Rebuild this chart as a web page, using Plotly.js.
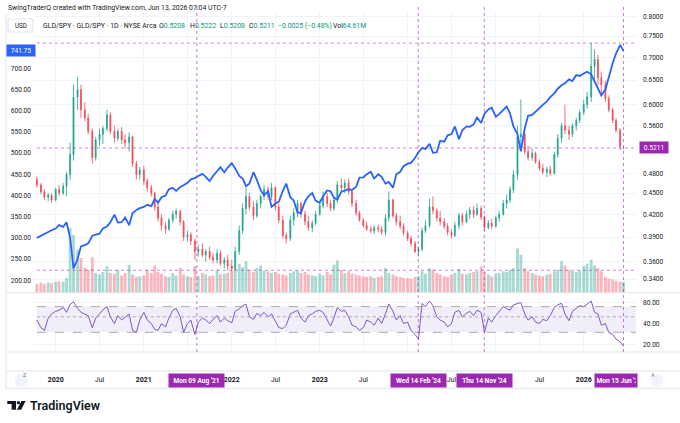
<!DOCTYPE html>
<html><head><meta charset="utf-8">
<script src="https://cdn.plot.ly/plotly-3.0.1.min.js"></script>
<style>html,body{margin:0;padding:0;background:#fff}#chart{width:680px;height:423px}</style>
</head><body><div id="chart"></div>
<script>
const dates = [
'2019-10-15','2019-11-01','2019-11-15','2019-12-01','2019-12-15',
'2020-01-01','2020-01-15','2020-02-01','2020-02-15','2020-03-01','2020-03-15','2020-04-01','2020-04-15','2020-05-01','2020-05-15','2020-06-01','2020-06-15','2020-07-01','2020-07-15','2020-08-01','2020-08-15','2020-09-01','2020-09-15','2020-10-01','2020-10-15','2020-11-01','2020-11-15','2020-12-01','2020-12-15',
'2021-01-01','2021-01-15','2021-02-01','2021-02-15','2021-03-01','2021-03-15','2021-04-01','2021-04-15','2021-05-01','2021-05-15','2021-06-01','2021-06-15','2021-07-01','2021-07-15','2021-08-01','2021-08-15','2021-09-01','2021-09-15','2021-10-01','2021-10-15','2021-11-01','2021-11-15','2021-12-01','2021-12-15',
'2022-01-01','2022-01-15','2022-02-01','2022-02-15','2022-03-01','2022-03-15','2022-04-01','2022-04-15','2022-05-01','2022-05-15','2022-06-01','2022-06-15','2022-07-01','2022-07-15','2022-08-01','2022-08-15','2022-09-01','2022-09-15','2022-10-01','2022-10-15','2022-11-01','2022-11-15','2022-12-01','2022-12-15',
'2023-01-01','2023-01-15','2023-02-01','2023-02-15','2023-03-01','2023-03-15','2023-04-01','2023-04-15','2023-05-01','2023-05-15','2023-06-01','2023-06-15','2023-07-01','2023-07-15','2023-08-01','2023-08-15','2023-09-01','2023-09-15','2023-10-01','2023-10-15','2023-11-01','2023-11-15','2023-12-01','2023-12-15',
'2024-01-01','2024-01-15','2024-02-01','2024-02-15','2024-03-01','2024-03-15','2024-04-01','2024-04-15','2024-05-01','2024-05-15','2024-06-01','2024-06-15','2024-07-01','2024-07-15','2024-08-01','2024-08-15','2024-09-01','2024-09-15','2024-10-01','2024-10-15','2024-11-01','2024-11-15','2024-12-01','2024-12-15',
'2025-01-01','2025-01-15','2025-02-01','2025-02-15','2025-03-01','2025-03-15','2025-04-01','2025-04-15','2025-05-01','2025-05-15','2025-06-01','2025-06-15','2025-07-01','2025-07-15','2025-08-01','2025-08-15','2025-09-01','2025-09-15','2025-10-01','2025-10-15','2025-11-01','2025-11-15','2025-12-01','2025-12-15',
'2026-01-01','2026-01-15','2026-02-01','2026-02-15','2026-03-01','2026-03-15','2026-04-01','2026-04-15','2026-05-01','2026-05-15','2026-06-01','2026-06-15'];

// SPY (left axis, blue line)
const spy = [
300,305,311,314,318,
322,330,326,337,300,228,250,280,283,287,305,308,310,322,327,337,355,336,337,348,330,358,366,370,
373,378,375,392,383,396,400,415,418,411,420,424,430,438,441,446,451,444,434,446,459,467,455,466,
476,464,446,440,422,428,455,437,412,401,410,373,381,385,411,428,396,388,360,358,386,398,406,388,
383,398,412,410,395,390,409,412,415,413,420,442,443,450,456,440,450,444,428,432,418,450,456,469,
475,477,489,502,512,510,522,501,502,529,527,542,545,563,533,554,563,562,568,584,571,593,603,607,
586,592,601,610,594,563,545,505,558,588,590,598,606,614,622,632,641,652,660,665,674,670,684,682,
688,692,686,670,655,636,650,682,712,735,755,741.75];

// GLD/SPY candles (right axis, log)
const gsOpen = [
.470,.462,.452,.444,.447,
.440,.455,.450,.460,.478,.510,.615,.630,.590,.575,.550,.505,.535,.545,.555,.580,.550,.538,.550,.535,.530,.540,.495,.478,
.485,.468,.458,.450,.430,.415,.405,.400,.412,.420,.424,.410,.390,.393,.385,.372,.375,.368,.372,.365,.362,.370,.358,.362,
.355,.352,.372,.398,.428,.445,.430,.418,.435,.445,.455,.445,.458,.430,.412,.392,.388,.412,.422,.435,.420,.410,.402,.408,
.420,.432,.445,.435,.428,.440,.462,.458,.465,.452,.435,.422,.412,.405,.400,.398,.402,.400,.396,.415,.440,.418,.410,.404,
.395,.388,.382,.372,.375,.398,.405,.430,.425,.415,.410,.404,.396,.392,.405,.418,.410,.420,.426,.420,.428,.416,.402,.408,
.404,.415,.420,.435,.440,.455,.478,.540,.545,.515,.505,.512,.498,.488,.482,.486,.480,.510,.538,.560,.552,.545,.560,.570,
.585,.600,.615,.680,.695,.655,.640,.612,.590,.570,.552,.5208];
const gsHigh = [
.475,.465,.455,.450,.449,
.458,.462,.465,.482,.530,.640,.657,.640,.605,.582,.555,.540,.555,.560,.590,.585,.560,.555,.558,.545,.548,.542,.500,.490,
.492,.472,.462,.452,.436,.420,.410,.415,.425,.428,.426,.412,.398,.396,.388,.380,.382,.375,.378,.370,.375,.374,.365,.368,
.362,.378,.405,.435,.458,.450,.438,.440,.448,.462,.460,.465,.460,.435,.418,.396,.418,.428,.440,.438,.425,.418,.412,.425,
.438,.452,.450,.440,.445,.468,.472,.470,.472,.455,.440,.425,.415,.410,.404,.405,.406,.404,.420,.452,.442,.422,.418,.408,
.398,.392,.385,.378,.402,.412,.442,.445,.428,.425,.415,.408,.400,.410,.422,.422,.425,.430,.432,.435,.432,.418,.412,.414,
.418,.425,.440,.448,.460,.485,.560,.610,.548,.525,.520,.515,.502,.495,.490,.492,.515,.545,.565,.600,.560,.565,.575,.590,
.610,.625,.733,.718,.705,.668,.648,.618,.594,.575,.556,.5222];
const gsLow = [
.458,.448,.440,.438,.436,
.438,.446,.447,.445,.470,.500,.590,.575,.568,.545,.495,.500,.525,.528,.550,.545,.530,.532,.528,.520,.515,.490,.470,.470,
.462,.452,.445,.425,.410,.398,.394,.398,.408,.414,.405,.385,.384,.380,.362,.366,.365,.360,.362,.358,.358,.355,.352,.350,
.348,.350,.368,.394,.420,.425,.412,.415,.428,.440,.440,.440,.425,.408,.388,.382,.385,.405,.416,.415,.405,.398,.396,.405,
.418,.428,.430,.424,.425,.436,.452,.450,.448,.430,.418,.410,.402,.398,.395,.394,.396,.393,.392,.410,.415,.405,.400,.392,
.385,.378,.370,.366,.372,.395,.402,.420,.410,.405,.400,.392,.388,.390,.400,.405,.408,.414,.415,.418,.412,.398,.400,.400,
.402,.410,.418,.428,.436,.450,.470,.515,.510,.500,.500,.495,.484,.478,.474,.476,.478,.505,.530,.545,.535,.540,.552,.565,
.580,.592,.605,.650,.640,.620,.605,.585,.565,.548,.518,.5208];
const gsClose = [
.462,.452,.444,.447,.440,
.455,.450,.460,.478,.510,.615,.630,.590,.575,.550,.505,.535,.545,.555,.580,.550,.538,.550,.535,.530,.540,.495,.478,.485,
.468,.458,.450,.430,.415,.405,.400,.412,.420,.424,.410,.390,.393,.385,.372,.375,.368,.372,.365,.362,.370,.358,.362,.355,
.352,.372,.398,.428,.445,.430,.418,.435,.445,.455,.445,.458,.430,.412,.392,.388,.412,.422,.435,.420,.410,.402,.408,.420,
.432,.445,.435,.428,.440,.462,.458,.465,.452,.435,.422,.412,.405,.400,.398,.402,.400,.396,.415,.440,.418,.410,.404,.395,
.388,.382,.372,.375,.398,.405,.430,.425,.415,.410,.404,.396,.392,.405,.418,.410,.420,.426,.420,.428,.416,.402,.408,.404,
.415,.420,.435,.440,.455,.478,.540,.545,.515,.505,.512,.498,.488,.482,.486,.480,.510,.538,.560,.552,.545,.560,.570,.585,
.600,.615,.680,.695,.655,.640,.612,.590,.570,.552,.524,.5211];

// Volume (millions)
const volume = [
55,60,52,62,58,
65,70,68,90,390,350,260,210,150,140,215,120,110,125,160,120,115,140,105,120,170,110,95,100,
105,140,120,165,125,115,100,95,120,105,150,110,100,95,160,105,120,110,100,105,140,110,115,120,
130,145,175,155,190,140,125,150,165,135,130,120,125,115,110,105,120,130,135,120,125,110,105,100,
115,105,125,110,170,195,140,120,130,115,110,105,100,95,100,90,95,100,150,120,110,100,95,90,
90,85,95,100,130,115,150,140,120,110,100,95,110,120,145,115,110,120,125,130,160,125,110,100,
115,120,130,125,140,150,270,230,150,130,120,110,105,100,110,115,130,140,190,165,140,130,125,135,
160,175,200,165,150,130,95,85,80,72,68,64.61];

// RSI
const rsi = [
45,35,32,48,55,
60,62,68,58,75,82,66,58,55,52,35,48,55,63,70,50,40,52,45,50,55,32,30,45,
58,45,40,33,32,40,36,48,62,66,50,30,40,45,28,42,48,45,40,46,52,42,48,44,
41,60,65,72,76,50,46,56,52,58,50,55,42,35,34,38,55,58,62,48,42,52,55,60,
62,58,45,37,48,68,60,62,50,38,36,32,35,45,42,38,48,40,55,76,60,45,52,40,
42,32,28,24,78,70,84,72,50,45,42,36,40,58,62,50,56,60,52,62,58,30,48,42,
52,60,70,66,62,74,78,80,55,45,50,42,40,46,44,52,68,74,78,55,44,60,66,72,
70,76,84,58,55,38,40,30,28,24,22,19];

// 750.00 is hidden under the last-price box in the reference
const spyTicks = [200,250,300,350,400,450,500,550,600,650,700];
const ratioTicks = [0.34,0.36,0.39,0.42,0.45,0.48,0.56,0.60,0.65,0.70,0.75,0.80];
const rsiTicks = [20,40,80];
const timeTicks = ['2020-01-01','2020-07-01','2021-01-01','2021-07-01','2022-01-01','2022-07-01','2023-01-01','2023-07-01','2024-01-01','2024-07-01','2025-01-01','2025-07-01','2026-01-01'];
// labels under the date boxes (Jul 2021, 2024, 2025) are hidden in the reference
const timeTickText = ['<b>2020</b>','Jul','<b>2021</b>','','<b>2022</b>','Jul','<b>2023</b>','Jul','','Jul','','Jul','<b>2026</b>'];
const markerDates = ['2021-08-09','2024-02-14','2024-11-14','2026-06-15'];
const markerLabels = ["Mon 09 Aug '21","Wed 14 Feb '24","Thu 14 Nov '24","Mon 15 Jun '26"];
const levelLines = [0.733, 0.5211, 0.350];
const lastSpy = 741.75, lastRatio = 0.5211;
const titleText = 'SwingTraderQ created with TradingView.com, Jun 13, 2026 07:04 UTC-7';
const legendName = 'GLD/SPY · GLD/SPY · 1D · NYSE Arca';
const legendItems = [['O','0.5208'],['H','0.5222'],['L','0.5208'],['C','0.5211'],['','−0.0025 (−0.48%)'],['Vol','64.61M']];

// ---- layout helpers (pixel -> paper) ----
const L = 34, R = 636, T = 12, B = 351.7;
const W = R - L, H = B - T;
const px = x => (x - L) / W;
const py = y => (B - y) / H;
const mainBottom = py(292.5);
const xEnd = '2026-08-06';
const G = '#089981', RD = '#f23645', PURPLE = '#9c27b0', TXT = '#131722', FR = '#e0e3eb';

const volColors = gsClose.map((c, i) => c >= gsOpen[i] ? 'rgba(8,153,129,0.36)' : 'rgba(242,54,69,0.36)');

const traces = [
  {type:'bar', x:dates, y:volume, xaxis:'x2', yaxis:'y', marker:{color:volColors, line:{width:0}}, hoverinfo:'skip'},
  {type:'candlestick', x:dates, open:gsOpen, high:gsHigh, low:gsLow, close:gsClose, xaxis:'x2', yaxis:'y2',
   increasing:{line:{color:G, width:0.8}, fillcolor:G}, decreasing:{line:{color:RD, width:0.8}, fillcolor:RD},
   whiskerwidth:0, hoverinfo:'skip', opacity:0.9},
  {type:'scatter', mode:'lines', x:dates, y:spy, xaxis:'x2', yaxis:'y4', line:{color:'#2962ff', width:1.8}, hoverinfo:'skip'},
  {type:'scatter', mode:'lines', x:dates, y:rsi, xaxis:'x', yaxis:'y3', line:{color:'#7e57c2', width:1}, hoverinfo:'skip'}
];

const shapes = [];
// frame lines
[292.5, 351.7, 370.7, 388].forEach(y => shapes.push({type:'line', xref:'paper', yref:'paper', x0:px(6), x1:px(680), y0:py(y), y1:py(y), line:{color:FR, width:1}}));
shapes.push({type:'line', xref:'paper', yref:'paper', x0:px(6), x1:px(6), y0:py(14), y1:py(388), line:{color:FR, width:1}});
// RSI band
shapes.push({type:'rect', xref:'x', yref:'y3', x0:dates[0], x1:xEnd, y0:30, y1:70, fillcolor:'rgba(126,87,194,0.1)', line:{width:0}, layer:'below'});
[[70,'dash'],[50,'dot'],[30,'dash']].forEach(([v,d]) => shapes.push({type:'line', xref:'x', yref:'y3', x0:dates[0], x1:xEnd, y0:v, y1:v, line:{color:'#9598a1', width:0.8, dash:d}}));
// horizontal level lines
levelLines.forEach(v => shapes.push({type:'line', xref:'x2', yref:'y2', x0:dates[0], x1:xEnd, y0:v, y1:v, line:{color:'rgba(156,39,176,0.55)', width:1, dash:'dot'}}));
// vertical marker lines
markerDates.forEach(d => shapes.push({type:'line', xref:'x', yref:'paper', x0:d, x1:d, y0:py(351.7), y1:py(4), line:{color:'rgba(156,39,176,0.6)', width:1, dash:'dot'}}));
// USD box
shapes.push({type:'rect', xref:'paper', yref:'paper', x0:px(8), x1:px(33), y0:py(32), y1:py(19), line:{color:FR, width:1}, fillcolor:'#ffffff'});
// Z / A buttons
[21, 657].forEach(cx => shapes.push({type:'circle', xref:'paper', yref:'paper', x0:px(cx-6.5), x1:px(cx+6.5), y0:py(386.5), y1:py(373.5), line:{width:0}, fillcolor:'#f0f3fa'}));
// TradingView logo glyph
const P = pts => 'M ' + pts.map(([x,y]) => px(x) + ',' + py(y)).join(' L ') + ' Z';
shapes.push({type:'path', xref:'paper', yref:'paper', path:P([[7.3,400.7],[16,400.7],[16,409.3],[11.6,409.3],[11.6,403.6],[7.3,403.6]]), fillcolor:TXT, line:{width:0}});
shapes.push({type:'circle', xref:'paper', yref:'paper', x0:px(16.8), x1:px(20), y0:py(403.9), y1:py(400.7), fillcolor:TXT, line:{width:0}});
shapes.push({type:'path', xref:'paper', yref:'paper', path:P([[21.4,400.7],[25.6,400.7],[21.2,409.3],[16.9,409.3]]), fillcolor:TXT, line:{width:0}});

const g = s => `<span style="color:${G}">${s}</span>`;
const legendX = [157, 188, 218, 247, 276, 331];

const annotations = [
  {xref:'paper', yref:'paper', x:px(6), y:py(8.3), xanchor:'left', yanchor:'middle', text:titleText, showarrow:false, font:{size:6.9, color:TXT}},
  {xref:'paper', yref:'paper', x:px(20.5), y:py(25.5), xanchor:'center', yanchor:'middle', text:'USD', showarrow:false, font:{size:6.3, color:TXT}},
  {xref:'paper', yref:'paper', x:px(40.5), y:py(25.5), xanchor:'left', yanchor:'middle', text:legendName, showarrow:false, font:{size:6.9, color:TXT}},
  {xref:'paper', yref:'y4', x:px(36), y:lastSpy, xanchor:'right', yanchor:'middle', text:lastSpy.toFixed(2), showarrow:false, bgcolor:'#2962ff', font:{size:6.6, color:'#ffffff'}, width:26, height:9, borderpad:1},
  {xref:'paper', yref:'y2', x:px(639), y:Math.log10(lastRatio), xanchor:'left', yanchor:'middle', text:lastRatio.toFixed(4), showarrow:false, bgcolor:PURPLE, font:{size:6.6, color:'#ffffff'}, width:26, height:9, borderpad:1},
  {xref:'paper', yref:'paper', x:px(21), y:py(380), text:'Z', showarrow:false, font:{size:5.5, color:'#787b86'}},
  {xref:'paper', yref:'paper', x:px(657), y:py(380), text:'A', showarrow:false, font:{size:5.5, color:'#787b86'}},
  {xref:'paper', yref:'paper', x:px(27.5), y:py(405.2), xanchor:'left', yanchor:'middle', text:'TradingView', showarrow:false, font:{size:12.5, color:TXT, weight:600}}
];
legendItems.forEach(([k, v], i) => annotations.push({xref:'paper', yref:'paper', x:px(legendX[i]), y:py(25.5), xanchor:'left', yanchor:'middle', text:k + g(v), showarrow:false, font:{size:6.9, color:TXT}}));
markerDates.forEach((d, i) => {
  if (i < 3) {
    annotations.push({xref:'x', yref:'paper', x:d, y:py(380), xanchor:'center', yanchor:'middle', text:'<b>' + markerLabels[i] + '</b>', showarrow:false, bgcolor:PURPLE, font:{size:6.6, color:'#ffffff'}, width:52, height:10, borderpad:1.5});
  } else {
    annotations.push({xref:'paper', yref:'paper', x:px(638), y:py(380), xanchor:'right', yanchor:'middle', align:'left', text:'<b>' + markerLabels[i] + '</b>', showarrow:false, bgcolor:PURPLE, font:{size:6.6, color:'#ffffff'}, width:39, height:10, borderpad:1.5});
  }
});

const layout = {
  width:680, height:423,
  margin:{l:L, r:680 - R, t:T, b:423 - B},
  paper_bgcolor:'#ffffff', plot_bgcolor:'#ffffff',
  showlegend:false, hovermode:false, dragmode:false, bargap:0.15, boxgap:0.6,
  font:{family:'Roboto, "Open Sans", sans-serif', size:6.6, color:TXT},
  xaxis:{type:'date', range:['2019-10-03', xEnd], anchor:'y3', tickmode:'array', tickvals:timeTicks, ticktext:timeTickText,
         showgrid:true, gridcolor:'#f0f3fa', gridwidth:1, ticks:'', ticklabelstandoff:22, showline:false, zeroline:false,
         tickfont:{size:7, color:TXT}, rangeslider:{visible:false}},
  xaxis2:{type:'date', matches:'x', anchor:'y', tickmode:'array', tickvals:timeTicks, showticklabels:false, ticks:'',
          showgrid:true, gridcolor:'#f0f3fa', gridwidth:1, showline:false, zeroline:false, rangeslider:{visible:false}},
  yaxis:{domain:[mainBottom, 1], range:[0, 1700], visible:false, anchor:'x2', fixedrange:true},
  yaxis2:{overlaying:'y', side:'right', anchor:'x2', type:'log', range:[-0.48769, -0.09095], tickmode:'array', tickvals:ratioTicks,
          tickformat:'.4f', showgrid:true, gridcolor:'#f0f3fa', ticks:'', ticklabelstandoff:6, zeroline:false, showline:false},
  yaxis4:{overlaying:'y', side:'left', anchor:'x2', range:[170.5, 833], tickmode:'array', tickvals:spyTicks, tickformat:'.2f',
          showgrid:false, ticks:'', ticklabelstandoff:2, zeroline:false, showline:false},
  yaxis3:{domain:[0, mainBottom], anchor:'x', side:'right', type:'log', range:[Math.log10(15.7), Math.log10(110.5)],
          tickmode:'array', tickvals:rsiTicks, tickformat:'.2f', showgrid:true, gridcolor:'#f0f3fa', ticks:'',
          ticklabelstandoff:6, zeroline:false, showline:false},
  shapes:shapes, annotations:annotations
};

Plotly.newPlot('chart', traces, layout, {staticPlot:true, displayModeBar:false});
</script></body></html>
